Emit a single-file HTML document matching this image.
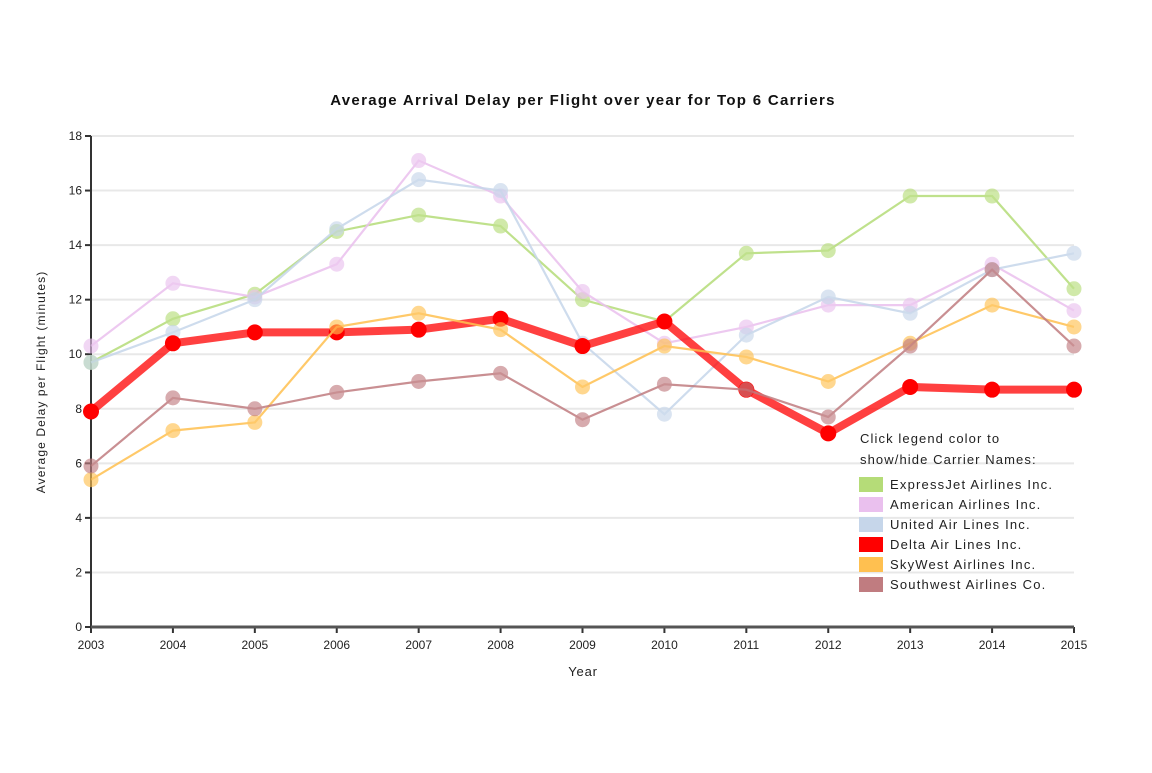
<!DOCTYPE html>
<html><head><meta charset="utf-8"><style>
body{margin:0;background:#fff;width:1152px;height:768px;overflow:hidden;font-family:"Liberation Sans",Arial,sans-serif}
</style></head><body>
<svg id="chart" width="1152" height="768" font-family="Liberation Sans, Arial, sans-serif"></svg>
<script>
const years=[2003,2004,2005,2006,2007,2008,2009,2010,2011,2012,2013,2014,2015];
const yTicks=[0,2,4,6,8,10,12,14,16,18];
const names=["ExpressJet Airlines Inc.","American Airlines Inc.","United Air Lines Inc.","Delta Air Lines Inc.","SkyWest Airlines Inc.","Southwest Airlines Co."];
const colors=["#b5dc78","#eac0ee","#c6d6ea","#ff0000","#ffc050","#c07c80"];
const expressJet=[9.7,11.3,12.2,14.5,15.1,14.7,12.0,11.2,13.7,13.8,15.8,15.8,12.4];
const american=[10.3,12.6,12.1,13.3,17.1,15.8,12.3,10.4,11.0,11.8,11.8,13.3,11.6];
const united=[9.7,10.8,12.0,14.6,16.4,16.0,10.4,7.8,10.7,12.1,11.5,13.1,13.7];
const delta=[7.9,10.4,10.8,10.8,10.9,11.3,10.3,11.2,8.7,7.1,8.8,8.7,8.7];
const skywest=[5.4,7.2,7.5,11.0,11.5,10.9,8.8,10.3,9.9,9.0,10.4,11.8,11.0];
const southwest=[5.9,8.4,8.0,8.6,9.0,9.3,7.6,8.9,8.7,7.7,10.3,13.1,10.3];
const series=[expressJet,american,united,delta,skywest,southwest];
const NS="http://www.w3.org/2000/svg";
const svg=document.getElementById('chart');
const X0=91,X1=1074,Y0=627,Y1=136;
const x=y=>X0+(y-years[0])/(years[years.length-1]-years[0])*(X1-X0);
const yS=v=>Y0-v/18*(Y0-Y1);
function mk(t,a,p){const e=document.createElementNS(NS,t);for(const k in a)e.setAttribute(k,a[k]);(p||svg).appendChild(e);return e;}
let t=mk('text',{x:583,y:105,'text-anchor':'middle','font-size':15,'font-weight':'bold',fill:'#111','letter-spacing':1.3});t.textContent="Average Arrival Delay per Flight over year for Top 6 Carriers";


yTicks.forEach(v=>{
 if(v>0){const g=mk('line',{x1:X0,x2:X1,y1:yS(v),y2:yS(v),stroke:'#e8e8e8','stroke-width':2});
 
 }
 mk('line',{x1:X0-6,x2:X0,y1:yS(v),y2:yS(v),stroke:'#333','stroke-width':2});
 const l=mk('text',{x:X0-9,y:yS(v)+4,'text-anchor':'end','font-size':12,fill:'#222'});l.textContent=v;
 
 
});
years.forEach(yr=>{
 mk('line',{x1:x(yr),x2:x(yr),y1:Y0,y2:Y0+6,stroke:'#333','stroke-width':2});
 const l=mk('text',{x:x(yr),y:Y0+22,'text-anchor':'middle','font-size':12,fill:'#222'});l.textContent=yr;
 
 
});
let ax=mk('line',{x1:X0,x2:X0,y1:Y1,y2:Y0,stroke:'#333','stroke-width':2});


ax=mk('line',{x1:X0,x2:X1,y1:Y0,y2:Y0,stroke:'#555','stroke-width':3});


t=mk('text',{x:583,y:676,'text-anchor':'middle','font-size':13,fill:'#222','letter-spacing':0.8});t.textContent="Year";


t=mk('text',{x:45,y:382,'text-anchor':'middle','font-size':12,fill:'#222','letter-spacing':1.1,transform:'rotate(-90 45 382)'});t.textContent="Average Delay per Flight (minutes)";


series.forEach((s,i)=>{
 const isD=i===3;
 const g=mk('g',{opacity:isD?1:0.85});
 
 
 const p=mk('path',{d:s.map((v,j)=>(j?'L':'M')+x(years[j])+' '+yS(v)).join(''),fill:'none',stroke:colors[i],'stroke-width':isD?8:2.2,'stroke-opacity':isD?0.75:1},g);
 
 
 s.forEach((v,j)=>{const c=mk('circle',{cx:x(years[j]),cy:yS(v),r:isD?8:7.5,fill:colors[i],'fill-opacity':isD?1:0.75},g);
 
 });
});
const lg=mk('g',{});


t=mk('text',{x:860,y:443,'font-size':13,fill:'#222','letter-spacing':1.1},lg);t.textContent="Click legend color to";
t=mk('text',{x:860,y:464,'font-size':13,fill:'#222','letter-spacing':1.1},lg);t.textContent="show/hide Carrier Names:";
names.forEach((n,i)=>{
 const r=mk('rect',{x:859,y:477+i*20,width:24,height:15,fill:colors[i]},lg);
 
 
 const l=mk('text',{x:890,y:489+i*20,'font-size':13,fill:'#222','letter-spacing':1.2},lg);l.textContent=n;
 
 
});
</script>
</body></html>
